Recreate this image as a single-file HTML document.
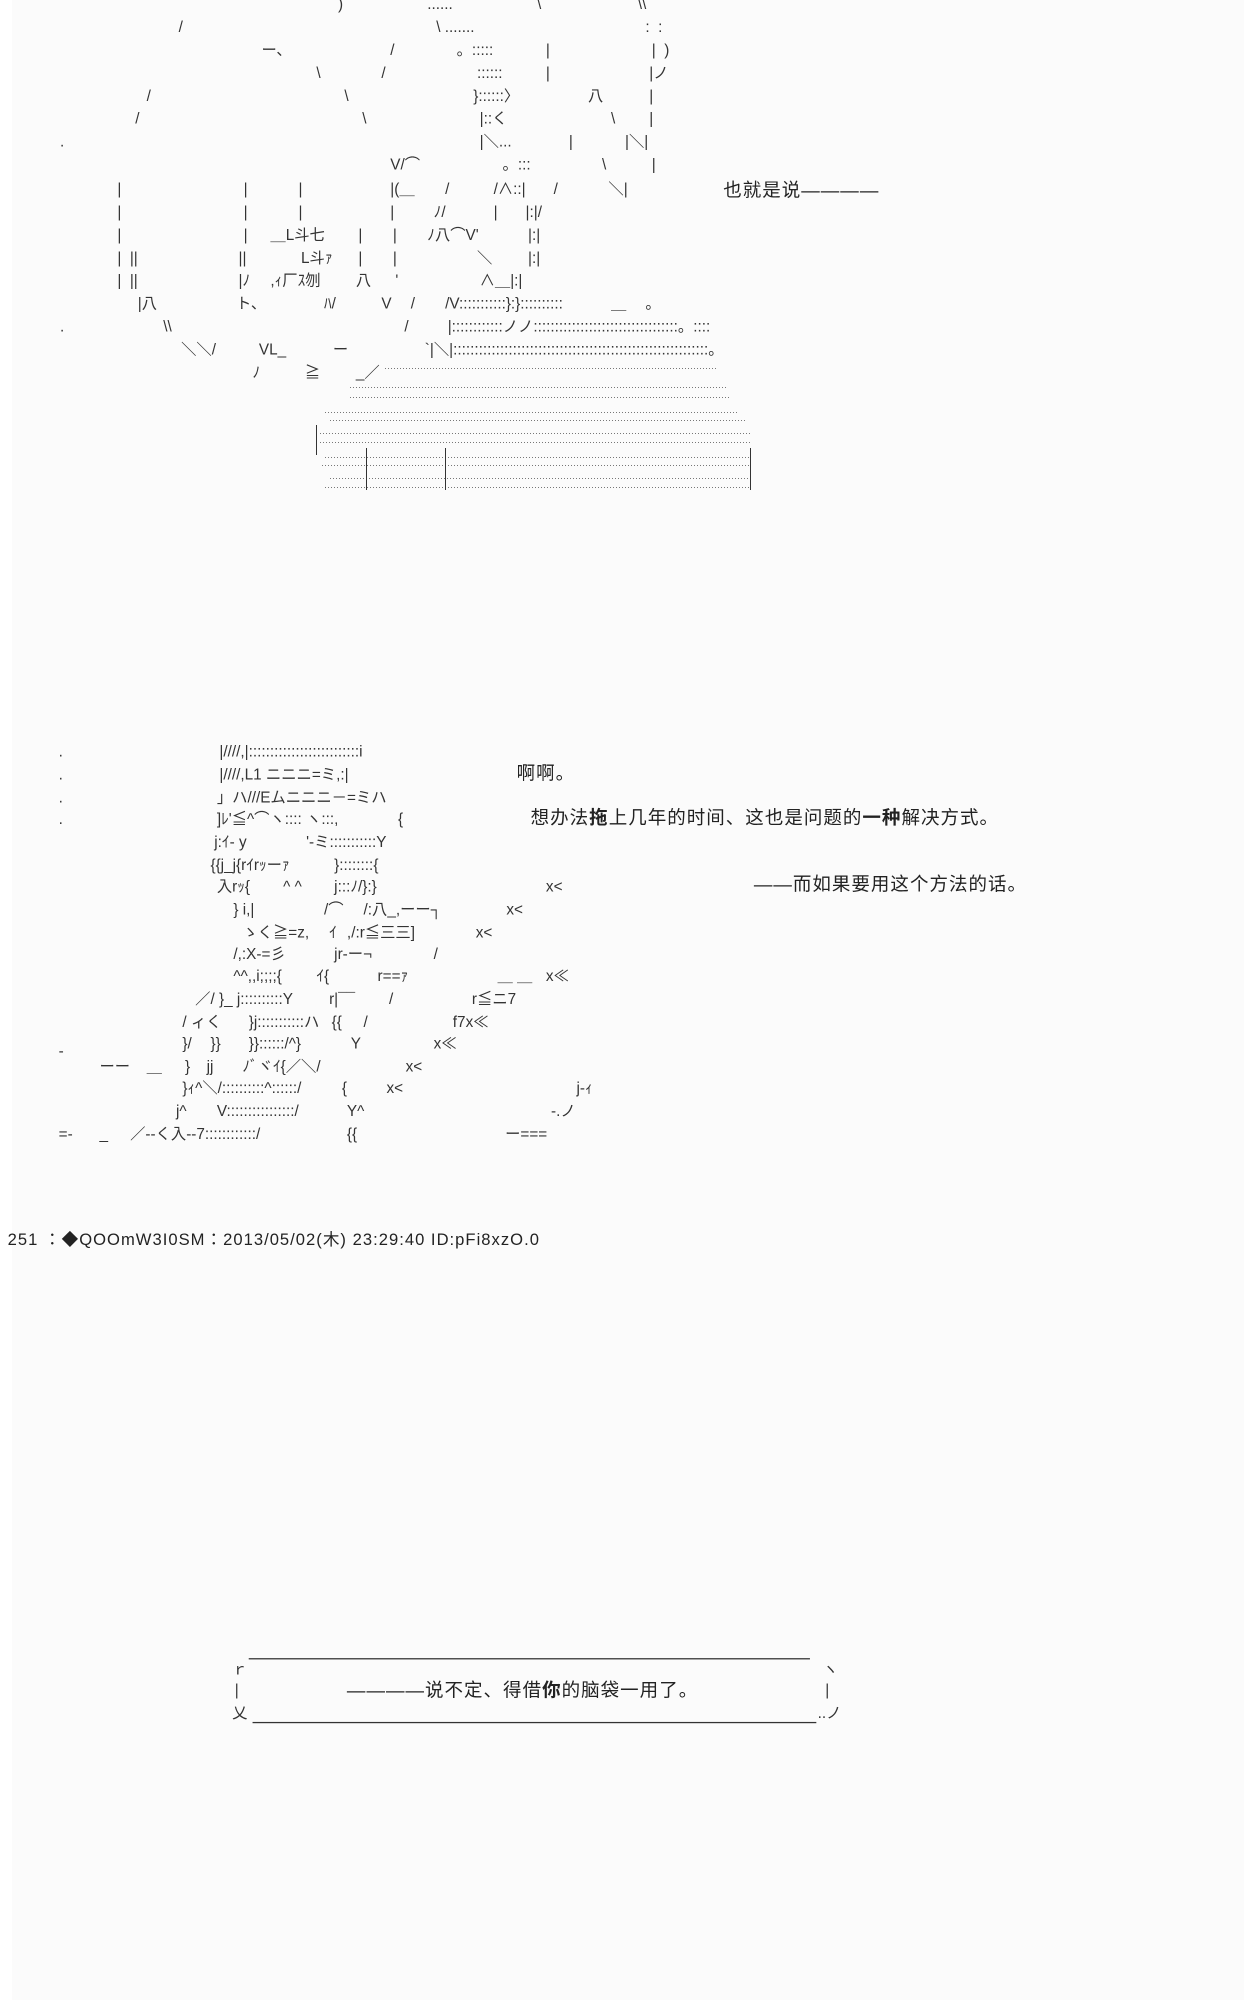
<!DOCTYPE html>
<html><head><meta charset="utf-8"><style>
html,body{margin:0;padding:0;background:#fff;}
body{width:1250px;height:2000px;position:relative;overflow:hidden;}
#bg{position:absolute;left:12px;top:0;width:1232px;height:2000px;background:#fbfbfb;}
#s{position:absolute;left:0;top:0;width:980px;height:1568px;transform:scale(1.2755);transform-origin:0 0;}
#s i{position:absolute;font-style:normal;white-space:pre;font-family:"Liberation Sans","Noto Sans CJK JP",sans-serif;font-size:12px;line-height:14px;color:#333;}
.c{position:absolute;white-space:pre;font-family:"Liberation Sans","Noto Sans CJK SC",sans-serif;font-size:14.5px;line-height:16px;color:#222;letter-spacing:0.8px;}
.d{position:absolute;height:1px;background:repeating-linear-gradient(90deg,#777 0 1px,transparent 1px 3px);}
.dd{position:absolute;height:6px;top:0;background:repeating-linear-gradient(90deg,#888 0 1px,transparent 1px 3px);-webkit-mask:repeating-linear-gradient(180deg,#000 0 1px,transparent 1px 4px);mask:repeating-linear-gradient(180deg,#000 0 1px,transparent 1px 4px);}
.v{position:absolute;width:1px;background:#333;}
</style></head><body>
<div id="bg"></div>
<div class="d" style="left:385px;top:368px;width:332px"></div>
<div class="d" style="left:350px;top:387px;width:377px"></div>
<div class="d" style="left:350px;top:397px;width:380px"></div>
<div class="d" style="left:325px;top:412px;width:412px"></div>
<div class="d" style="left:330px;top:420px;width:415px"></div>
<div class="d" style="left:320px;top:433px;width:430px"></div>
<div class="d" style="left:320px;top:442px;width:430px"></div>
<div class="d" style="left:325px;top:457px;width:425px"></div>
<div class="d" style="left:322px;top:465px;width:428px"></div>
<div class="d" style="left:330px;top:478px;width:420px"></div>
<div class="d" style="left:325px;top:487px;width:425px"></div>
<div class="v" style="left:316px;top:425px;height:30px"></div>
<div class="v" style="left:366px;top:448px;height:42px"></div>
<div class="v" style="left:445px;top:448px;height:42px"></div>
<div class="v" style="left:750px;top:448px;height:42px"></div>
<div id="s">
<!-- top AA -->
<i style="left:265px;top:-4px">)</i><i style="left:315px;top:-4px">`</i><i style="left:335px;top:-4px">......</i><i style="left:421px;top:-4px">\</i><i style="left:500px;top:-4px">\\</i>
<i style="left:140px;top:14px">/</i><i style="left:342px;top:14px">\ .......</i><i style="left:506px;top:14px">:  :</i>
<i style="left:205px;top:32px">ー､</i><i style="left:306px;top:32px">/</i><i style="left:358px;top:32px">。:::::</i><i style="left:428px;top:32px">|</i><i style="left:511px;top:32px">|  )</i>
<i style="left:248px;top:50px">\</i><i style="left:299px;top:50px">/</i><i style="left:374px;top:50px">::::::</i><i style="left:428px;top:50px">|</i><i style="left:509px;top:50px">|ノ</i>
<i style="left:115px;top:68px">/</i><i style="left:270px;top:68px">\</i><i style="left:371px;top:68px">}::::::〉</i><i style="left:461px;top:68px">八</i><i style="left:509px;top:68px">|</i>
<i style="left:106px;top:86px">/</i><i style="left:284px;top:86px">\</i><i style="left:376px;top:86px">|::く</i><i style="left:479px;top:86px">\</i><i style="left:509px;top:86px">|</i>
<i style="left:47px;top:104px">.</i><i style="left:376px;top:104px">|＼...</i><i style="left:446px;top:104px">|</i><i style="left:490px;top:104px">|＼|</i>
<i style="left:306px;top:122px">V/⌒</i><i style="left:394px;top:122px">。:::</i><i style="left:472px;top:122px">\</i><i style="left:511px;top:122px">|</i>
<i style="left:92px;top:141px">|</i><i style="left:191px;top:141px">|</i><i style="left:234px;top:141px">|</i><i style="left:306px;top:141px">|(＿</i><i style="left:349px;top:141px">/</i><i style="left:387px;top:141px">/∧::|</i><i style="left:434px;top:141px">/</i><i style="left:477px;top:141px">＼|</i>
<i style="left:92px;top:159px">|</i><i style="left:191px;top:159px">|</i><i style="left:234px;top:159px">|</i><i style="left:306px;top:159px">|</i><i style="left:340px;top:159px">ﾉ/</i><i style="left:387px;top:159px">|</i><i style="left:412px;top:159px">|:|/</i>
<i style="left:92px;top:177px">|</i><i style="left:191px;top:177px">|</i><i style="left:212px;top:177px">＿L斗七</i><i style="left:281px;top:177px">|</i><i style="left:308px;top:177px">|</i><i style="left:335px;top:177px">ﾉ八⌒V'</i><i style="left:414px;top:177px">|:|</i>
<i style="left:92px;top:195px">|  ||</i><i style="left:187px;top:195px">||</i><i style="left:236px;top:195px">L斗ｧ</i><i style="left:281px;top:195px">|</i><i style="left:308px;top:195px">|</i><i style="left:374px;top:195px">＼</i><i style="left:414px;top:195px">|:|</i>
<i style="left:92px;top:213px">|  ||</i><i style="left:187px;top:213px">|ﾉ</i><i style="left:212px;top:213px">,ｨ厂ｽ刎</i><i style="left:279px;top:213px">八</i><i style="left:310px;top:213px">'</i><i style="left:376px;top:213px">∧＿|:|</i>
<i style="left:108px;top:231px">|八</i><i style="left:185px;top:231px">ト､</i><i style="left:254px;top:231px">ﾊ/</i><i style="left:299px;top:231px">V</i><i style="left:322px;top:231px">/</i><i style="left:349px;top:231px">/V:::::::::::}:}::::::::::</i><i style="left:479px;top:231px">＿</i><i style="left:506px;top:231px">。</i>
<i style="left:47px;top:249px">.</i><i style="left:128px;top:249px">\\</i><i style="left:317px;top:249px">/</i><i style="left:351px;top:249px">|::::::::::::ノノ::::::::::::::::::::::::::::::::::。::::</i>
<i style="left:142px;top:267px">＼＼/</i><i style="left:203px;top:267px">VL_</i><i style="left:261px;top:267px">ー</i><i style="left:333px;top:267px">`|＼|::::::::::::::::::::::::::::::::::::::::::::::::::::::::::::。</i>
<i style="left:198px;top:285px">ﾉ</i><i style="left:239px;top:285px">≧</i><i style="left:279px;top:285px">_／</i>
<div class="c" style="left:567px;top:142px">也就是说————</div>

<!-- second AA -->
<i style="left:46px;top:582px">.</i><i style="left:46px;top:600px">.</i><i style="left:46px;top:618px">.</i><i style="left:46px;top:635px">.</i>
<i style="left:172px;top:582px">|////,|::::::::::::::::::::::::::i</i>
<i style="left:172px;top:600px">|////,L1 ニニニ=ミ,:|</i>
<i style="left:170px;top:618px">」ハ///Eムニニニ－=ミハ</i>
<i style="left:170px;top:635px">]ﾚ'≦^⌒ヽ:::: ヽ:::,</i><i style="left:312px;top:635px">{</i>
<i style="left:168px;top:653px">j:ｲ- y</i><i style="left:240px;top:653px">'-ミ:::::::::::Y</i>
<i style="left:165px;top:671px">{{j_j{rｲrｯーｧ</i><i style="left:262px;top:671px">}::::::::{</i>
<i style="left:170px;top:688px">入rｯ{</i><i style="left:222px;top:688px">^ ^</i><i style="left:262px;top:688px">j:::ﾉ/}:}</i><i style="left:428px;top:688px">x&lt;</i>
<i style="left:183px;top:706px">} i,|</i><i style="left:254px;top:706px">/⌒</i><i style="left:285px;top:706px">/:八_,ーー┐</i><i style="left:397px;top:706px">x&lt;</i>
<i style="left:190px;top:724px">ゝく≧=z,</i><i style="left:258px;top:724px">ｲ</i><i style="left:272px;top:724px">,/:r≦三三]</i><i style="left:373px;top:724px">x&lt;</i>
<i style="left:183px;top:741px">/,:X-=彡</i><i style="left:262px;top:741px">jr-ー¬</i><i style="left:340px;top:741px">/</i>
<i style="left:183px;top:758px">^^,,i;;;;{</i><i style="left:248px;top:758px">ｲ{</i><i style="left:296px;top:758px">r==ｧ</i><i style="left:390px;top:758px">＿ ＿</i><i style="left:428px;top:758px">x≪</i>
<i style="left:153px;top:776px">／/ }_ j::::::::::Y</i><i style="left:258px;top:776px">r|¯¯</i><i style="left:305px;top:776px">/</i><i style="left:370px;top:776px">r≦ニ7</i>
<i style="left:143px;top:794px">/ ィく</i><i style="left:195px;top:794px">}j:::::::::::ハ</i><i style="left:260px;top:794px">{{</i><i style="left:285px;top:794px">/</i><i style="left:355px;top:794px">f7x≪</i>
<i style="left:143px;top:811px">}/</i><i style="left:165px;top:811px">}}</i><i style="left:195px;top:811px">}}::::::/^}</i><i style="left:275px;top:811px">Y</i><i style="left:340px;top:811px">x≪</i><i style="left:46px;top:817px">-</i>
<i style="left:78px;top:829px">ーー</i><i style="left:115px;top:829px">＿</i><i style="left:145px;top:829px">}</i><i style="left:162px;top:829px">jj</i><i style="left:190px;top:829px">ﾉﾞヾｲ{／＼/</i><i style="left:318px;top:829px">x&lt;</i>
<i style="left:143px;top:846px">}ｨ^＼/::::::::::^::::::/</i><i style="left:268px;top:846px">{</i><i style="left:303px;top:846px">x&lt;</i><i style="left:452px;top:846px">j-ｨ</i>
<i style="left:138px;top:864px">j^</i><i style="left:170px;top:864px">V::::::::::::::::/</i><i style="left:272px;top:864px">Y^</i><i style="left:432px;top:864px">-.ノ</i>
<i style="left:46px;top:882px">=-</i><i style="left:78px;top:882px">_</i><i style="left:102px;top:882px">／--く入--7::::::::::::/</i><i style="left:272px;top:882px">{{</i><i style="left:396px;top:882px">ー===</i>

<div class="c" style="left:405px;top:599px">啊啊。</div>
<div class="c" style="left:416px;top:634px">想办法<b>拖</b>上几年的时间、这也是问题的<b>一种</b>解决方式。</div>
<div class="c" style="left:591px;top:686px">——而如果要用这个方法的话。</div>

<i style="left:6px;top:965px;font-size:13px;color:#222;letter-spacing:0.8px">251 ：◆QOOmW3I0SM：2013/05/02(木) 23:29:40 ID:pFi8xzO.0</i>

<div style="position:absolute;left:195px;top:1300px;width:440px;height:1px;background:#333"></div>
<div style="position:absolute;left:198px;top:1350px;width:442px;height:1px;background:#333"></div>
<i style="left:182px;top:1302px">ｒ</i>
<i style="left:184px;top:1318px">|</i>
<i style="left:182px;top:1336px">乂</i>
<i style="left:645px;top:1302px">ヽ</i>
<i style="left:647px;top:1318px">|</i>
<i style="left:641px;top:1336px">..ノ</i>
<div class="c" style="left:272px;top:1318px">————说不定、得借<b>你</b>的脑袋一用了。</div>
</div>
</body></html>
